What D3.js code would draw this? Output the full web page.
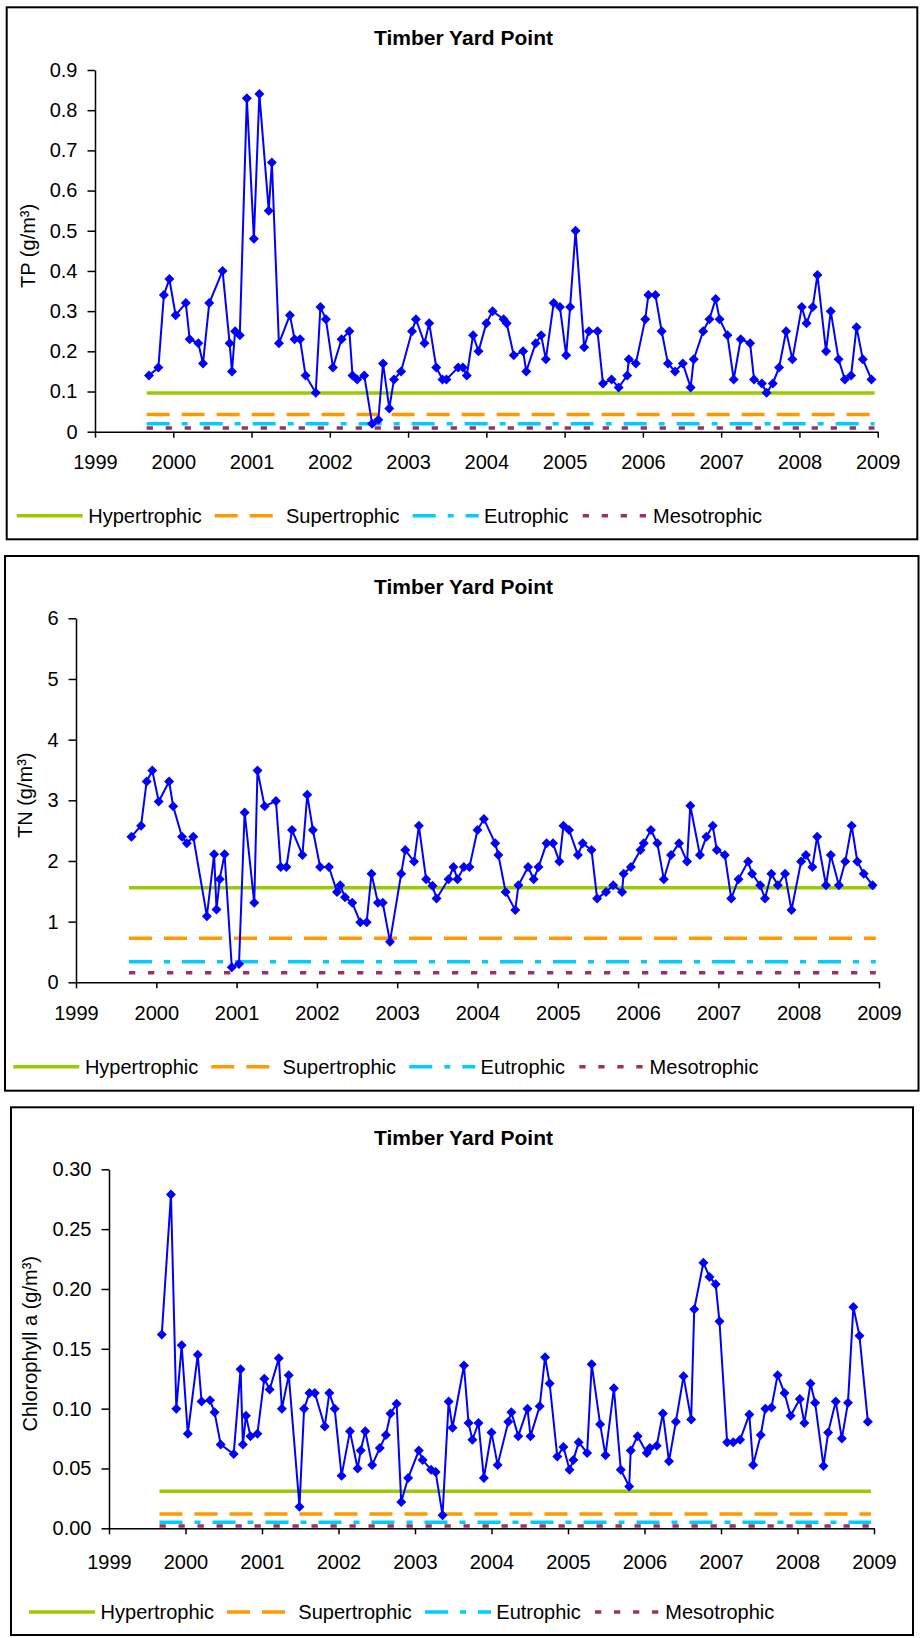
<!DOCTYPE html>
<html>
<head>
<meta charset="utf-8">
<script src="https://cdn.jsdelivr.net/npm/d3@7"></script>
<style>
  body { margin: 0; background: #fff; }
  svg { display: block; }
</style>
</head>
<body>
<div id="chart"></div>
<script>
// sampling dates as decimal years, shared by the three series
var sampleDates = [
  1999.69, 1999.81, 1999.88, 1999.95, 2000.03, 2000.16, 2000.21, 2000.32, 2000.38, 2000.46,
  2000.63, 2000.72, 2000.75, 2000.79, 2000.85, 2000.94, 2001.03, 2001.10, 2001.22, 2001.26,
  2001.35, 2001.49, 2001.55, 2001.62, 2001.69, 2001.82, 2001.88, 2001.95, 2002.04, 2002.15,
  2002.25, 2002.29, 2002.35, 2002.44, 2002.54, 2002.62, 2002.68, 2002.76, 2002.82, 2002.91,
  2003.05, 2003.10, 2003.21, 2003.27, 2003.36, 2003.44, 2003.49, 2003.64, 2003.70, 2003.75,
  2003.83, 2003.90, 2004.00, 2004.08, 2004.22, 2004.26, 2004.35, 2004.47, 2004.51, 2004.63,
  2004.70, 2004.76, 2004.86, 2004.94, 2005.02, 2005.07, 2005.14, 2005.25, 2005.31, 2005.42,
  2005.49, 2005.60, 2005.69, 2005.80, 2005.82, 2005.91, 2006.03, 2006.07, 2006.16, 2006.24,
  2006.32, 2006.41, 2006.51, 2006.61, 2006.65, 2006.77, 2006.85, 2006.93, 2006.98, 2007.08,
  2007.16, 2007.25, 2007.37, 2007.42, 2007.52, 2007.58, 2007.66, 2007.74, 2007.83, 2007.91,
  2008.03, 2008.09, 2008.17, 2008.23, 2008.34, 2008.40, 2008.50, 2008.58, 2008.66, 2008.73,
  2008.81, 2008.92
];

// total phosphorus (g/m3)
var tpValues = [
  0.14, 0.16, 0.34, 0.38, 0.29, 0.32, 0.23, 0.22, 0.17, 0.32,
  0.40, 0.22, 0.15, 0.25, 0.24, 0.83, 0.48, 0.84, 0.55, 0.67,
  0.22, 0.29, 0.23, 0.23, 0.14, 0.097, 0.31, 0.28, 0.16, 0.23,
  0.25, 0.14, 0.13, 0.14, 0.02, 0.03, 0.17, 0.058, 0.13, 0.15,
  0.25, 0.28, 0.22, 0.27, 0.16, 0.13, 0.13, 0.16, 0.16, 0.14,
  0.24, 0.20, 0.27, 0.30, 0.28, 0.27, 0.19, 0.20, 0.15, 0.22,
  0.24, 0.18, 0.32, 0.31, 0.19, 0.31, 0.50, 0.21, 0.25, 0.25,
  0.12, 0.13, 0.11, 0.14, 0.18, 0.17, 0.28, 0.34, 0.34, 0.25,
  0.17, 0.15, 0.17, 0.11, 0.18, 0.25, 0.28, 0.33, 0.28, 0.24,
  0.13, 0.23, 0.22, 0.13, 0.12, 0.097, 0.12, 0.16, 0.25, 0.18,
  0.31, 0.27, 0.31, 0.39, 0.20, 0.30, 0.18, 0.13, 0.14, 0.26,
  0.18, 0.13
];

// total nitrogen (g/m3)
var tnValues = [
  2.40, 2.58, 3.31, 3.49, 2.98, 3.31, 2.90, 2.40, 2.29, 2.40,
  1.09, 2.11, 1.20, 1.70, 2.11, 0.25, 0.30, 2.80, 1.31, 3.49,
  2.90, 2.99, 1.90, 1.90, 2.51, 2.10, 3.09, 2.51, 1.90, 1.90,
  1.49, 1.60, 1.40, 1.31, 0.99, 0.99, 1.79, 1.31, 1.31, 0.67,
  1.79, 2.18, 1.99, 2.58, 1.70, 1.59, 1.38, 1.70, 1.90, 1.70,
  1.90, 1.90, 2.51, 2.69, 2.29, 2.10, 1.49, 1.19, 1.60, 1.90,
  1.70, 1.90, 2.29, 2.29, 1.99, 2.58, 2.51, 2.10, 2.29, 2.18,
  1.38, 1.49, 1.60, 1.49, 1.79, 1.90, 2.18, 2.29, 2.51, 2.29,
  1.70, 2.10, 2.29, 1.99, 2.91, 2.10, 2.40, 2.58, 2.18, 2.10,
  1.38, 1.70, 1.99, 1.79, 1.60, 1.38, 1.79, 1.60, 1.79, 1.19,
  1.99, 2.10, 1.90, 2.40, 1.60, 2.10, 1.60, 1.99, 2.58, 1.99,
  1.79, 1.60
];

// chlorophyll a (g/m3)
var chlValues = [
  0.162, 0.279, 0.100, 0.153, 0.079, 0.145, 0.106, 0.107, 0.097, 0.070,
  0.062, 0.133, 0.070, 0.094, 0.077, 0.079, 0.125, 0.116, 0.142, 0.100,
  0.128, 0.018, 0.100, 0.113, 0.113, 0.085, 0.113, 0.100, 0.044, 0.081,
  0.050, 0.065, 0.081, 0.053, 0.067, 0.078, 0.096, 0.104, 0.022, 0.042,
  0.065, 0.057, 0.049, 0.047, 0.011, 0.106, 0.084, 0.136, 0.088, 0.074,
  0.088, 0.042, 0.080, 0.053, 0.089, 0.097, 0.077, 0.100, 0.077, 0.102,
  0.143, 0.121, 0.060, 0.068, 0.049, 0.057, 0.072, 0.063, 0.137, 0.087,
  0.061, 0.117, 0.049, 0.035, 0.065, 0.077, 0.063, 0.067, 0.069, 0.096,
  0.056, 0.089, 0.127, 0.091, 0.183, 0.222, 0.210, 0.204, 0.173, 0.072,
  0.072, 0.074, 0.095, 0.053, 0.078, 0.100, 0.101, 0.128, 0.113, 0.094,
  0.108, 0.088, 0.121, 0.105, 0.052, 0.080, 0.106, 0.075, 0.105, 0.185,
  0.161, 0.089
];

// trophic level thresholds
var levelNames = ["Hypertrophic", "Supertrophic", "Eutrophic", "Mesotrophic"];
var tpLevels = [0.096, 0.043, 0.020, 0.009];
var tnLevels = [1.558, 0.725, 0.337, 0.157];
var chlLevels = [0.031, 0.012, 0.005, 0.002];
var levelPeriod = [1999.66, 2008.96];

// axis ticks
var yearTicks = [1999, 2000, 2001, 2002, 2003, 2004, 2005, 2006, 2007, 2008, 2009];
var tpTicks = [0, 0.1, 0.2, 0.3, 0.4, 0.5, 0.6, 0.7, 0.8, 0.9];
var tnTicks = [0, 1, 2, 3, 4, 5, 6];
var chlTicks = [0, 0.05, 0.10, 0.15, 0.20, 0.25, 0.30];

var chartTitle = "Timber Yard Point";

// line styles for the trophic levels
var levelStyles = [
  {color: "#99CC00", dash: null},
  {color: "#FF9900", dash: "23,12"},
  {color: "#00CCFF", dash: "23,12,6,12"},
  {color: "#993366", dash: "6.3,12.7"}
];

var fontFamily = "'Liberation Sans', Arial, Helvetica, sans-serif";

var panels = [
  {values: tpValues, levels: tpLevels, ticks: tpTicks, format: function(d) { return String(d); },
   yTitle: "TP (g/m³)", frame: [6.7, 7.3, 917.3, 539.3],
   plot: {left: 95, right: 877.7, top: 70, bottom: 431.7},
   yTitleX: 27.5, xLabelY: 462, legend: [16.7, 515.7]},
  {values: tnValues, levels: tnLevels, ticks: tnTicks, format: function(d) { return String(d); },
   yTitle: "TN (g/m³)", frame: [5, 556, 918.5, 1090.7],
   plot: {left: 76, right: 879, top: 618.3, bottom: 982.3},
   yTitleX: 25, xLabelY: 1013, legend: [13.3, 1066.7]},
  {values: chlValues, levels: chlLevels, ticks: chlTicks, format: d3.format(".2f"),
   yTitle: "Chlorophyll a (g/m³)", frame: [11, 1107.3, 913, 1635],
   plot: {left: 109, right: 874, top: 1169.3, bottom: 1528.3},
   yTitleX: 30, xLabelY: 1562, legend: [29, 1612]}
];

// legend offsets from the start of the legend
var legendSwatch = [0, 198, 396, 566];
var legendSwatchLen = [66, 58, 66, 64];
var legendText = [71.6, 269.3, 467.3, 636.3];

var svg = d3.select("#chart").append("svg")
    .attr("width", 920)
    .attr("height", 1638)
    .style("font-family", fontFamily);

svg.append("rect")
    .attr("width", 920).attr("height", 1638)
    .attr("fill", "#fff");

panels.forEach(function(p) {
  var g = svg.append("g");

  // frame
  g.append("rect")
      .attr("x", p.frame[0]).attr("y", p.frame[1])
      .attr("width", p.frame[2] - p.frame[0])
      .attr("height", p.frame[3] - p.frame[1])
      .attr("fill", "none")
      .attr("stroke", "#000")
      .attr("stroke-width", 2);

  // title
  g.append("text")
      .attr("x", 463.5)
      .attr("y", p.frame[1] + 38)
      .attr("text-anchor", "middle")
      .attr("font-size", 21)
      .attr("font-weight", "bold")
      .text(chartTitle);

  var x = d3.scaleLinear().domain([1999, 2009]).range([p.plot.left, p.plot.right]);
  var y = d3.scaleLinear()
      .domain([0, p.ticks[p.ticks.length - 1]])
      .range([p.plot.bottom, p.plot.top]);

  // x axis
  var xAxis = g.append("g")
      .attr("transform", "translate(0," + p.plot.bottom + ")")
      .call(d3.axisBottom(x)
        .tickValues(yearTicks)
        .tickFormat(d3.format("d"))
        .tickSize(6)
        .tickSizeOuter(0)
        .tickPadding(p.xLabelY - p.plot.bottom - 7.1 - 6));

  // y axis
  var yAxis = g.append("g")
      .attr("transform", "translate(" + p.plot.left + ",0)")
      .call(d3.axisLeft(y)
        .tickValues(p.ticks)
        .tickFormat(p.format)
        .tickSize(7.5)
        .tickSizeOuter(0)
        .tickPadding(10));

  [xAxis, yAxis].forEach(function(a) {
    a.attr("font-size", 20).attr("font-family", fontFamily);
    a.selectAll("path, line").attr("stroke", "#000").attr("stroke-width", 1.5);
    a.selectAll("text").attr("fill", "#000");
  });

  // y axis title
  g.append("text")
      .attr("transform", "translate(" + p.yTitleX + "," + ((p.plot.top + p.plot.bottom) / 2 - 5) + ") rotate(-90)")
      .attr("text-anchor", "middle")
      .attr("dy", "0.35em")
      .attr("font-size", 20)
      .text(p.yTitle);

  // trophic level lines
  g.selectAll(".level")
      .data(p.levels)
    .enter().append("line")
      .attr("x1", x(levelPeriod[0]))
      .attr("x2", x(levelPeriod[1]))
      .attr("y1", function(d) { return y(d); })
      .attr("y2", function(d) { return y(d); })
      .attr("stroke", function(d, i) { return levelStyles[i].color; })
      .attr("stroke-width", 3.5)
      .attr("stroke-dasharray", function(d, i) { return levelStyles[i].dash; });

  var pts = sampleDates.map(function(t, i) { return {t: t, v: p.values[i]}; });

  // series line
  var valueline = d3.line()
      .x(function(d) { return x(d.t); })
      .y(function(d) { return y(d.v); });

  g.append("path")
      .datum(pts)
      .attr("fill", "none")
      .attr("stroke", "#0000FF")
      .attr("stroke-width", 2)
      .attr("d", valueline);

  // diamond markers
  g.selectAll(".dot")
      .data(pts)
    .enter().append("path")
      .attr("d", d3.symbol().type(d3.symbolSquare).size(50))
      .attr("transform", function(d) { return "translate(" + x(d.t) + "," + y(d.v) + ") rotate(45)"; })
      .attr("fill", "#0000FF");

  // legend
  var lg = g.append("g")
      .attr("transform", "translate(" + p.legend[0] + "," + p.legend[1] + ")");

  levelNames.forEach(function(name, i) {
    lg.append("line")
        .attr("x1", legendSwatch[i])
        .attr("x2", legendSwatch[i] + legendSwatchLen[i])
        .attr("stroke", levelStyles[i].color)
        .attr("stroke-width", 3.5)
        .attr("stroke-dasharray", levelStyles[i].dash);
    lg.append("text")
        .attr("x", legendText[i])
        .attr("dy", "0.35em")
        .attr("font-size", 20)
        .text(name);
  });
});
</script>
</body>
</html>
